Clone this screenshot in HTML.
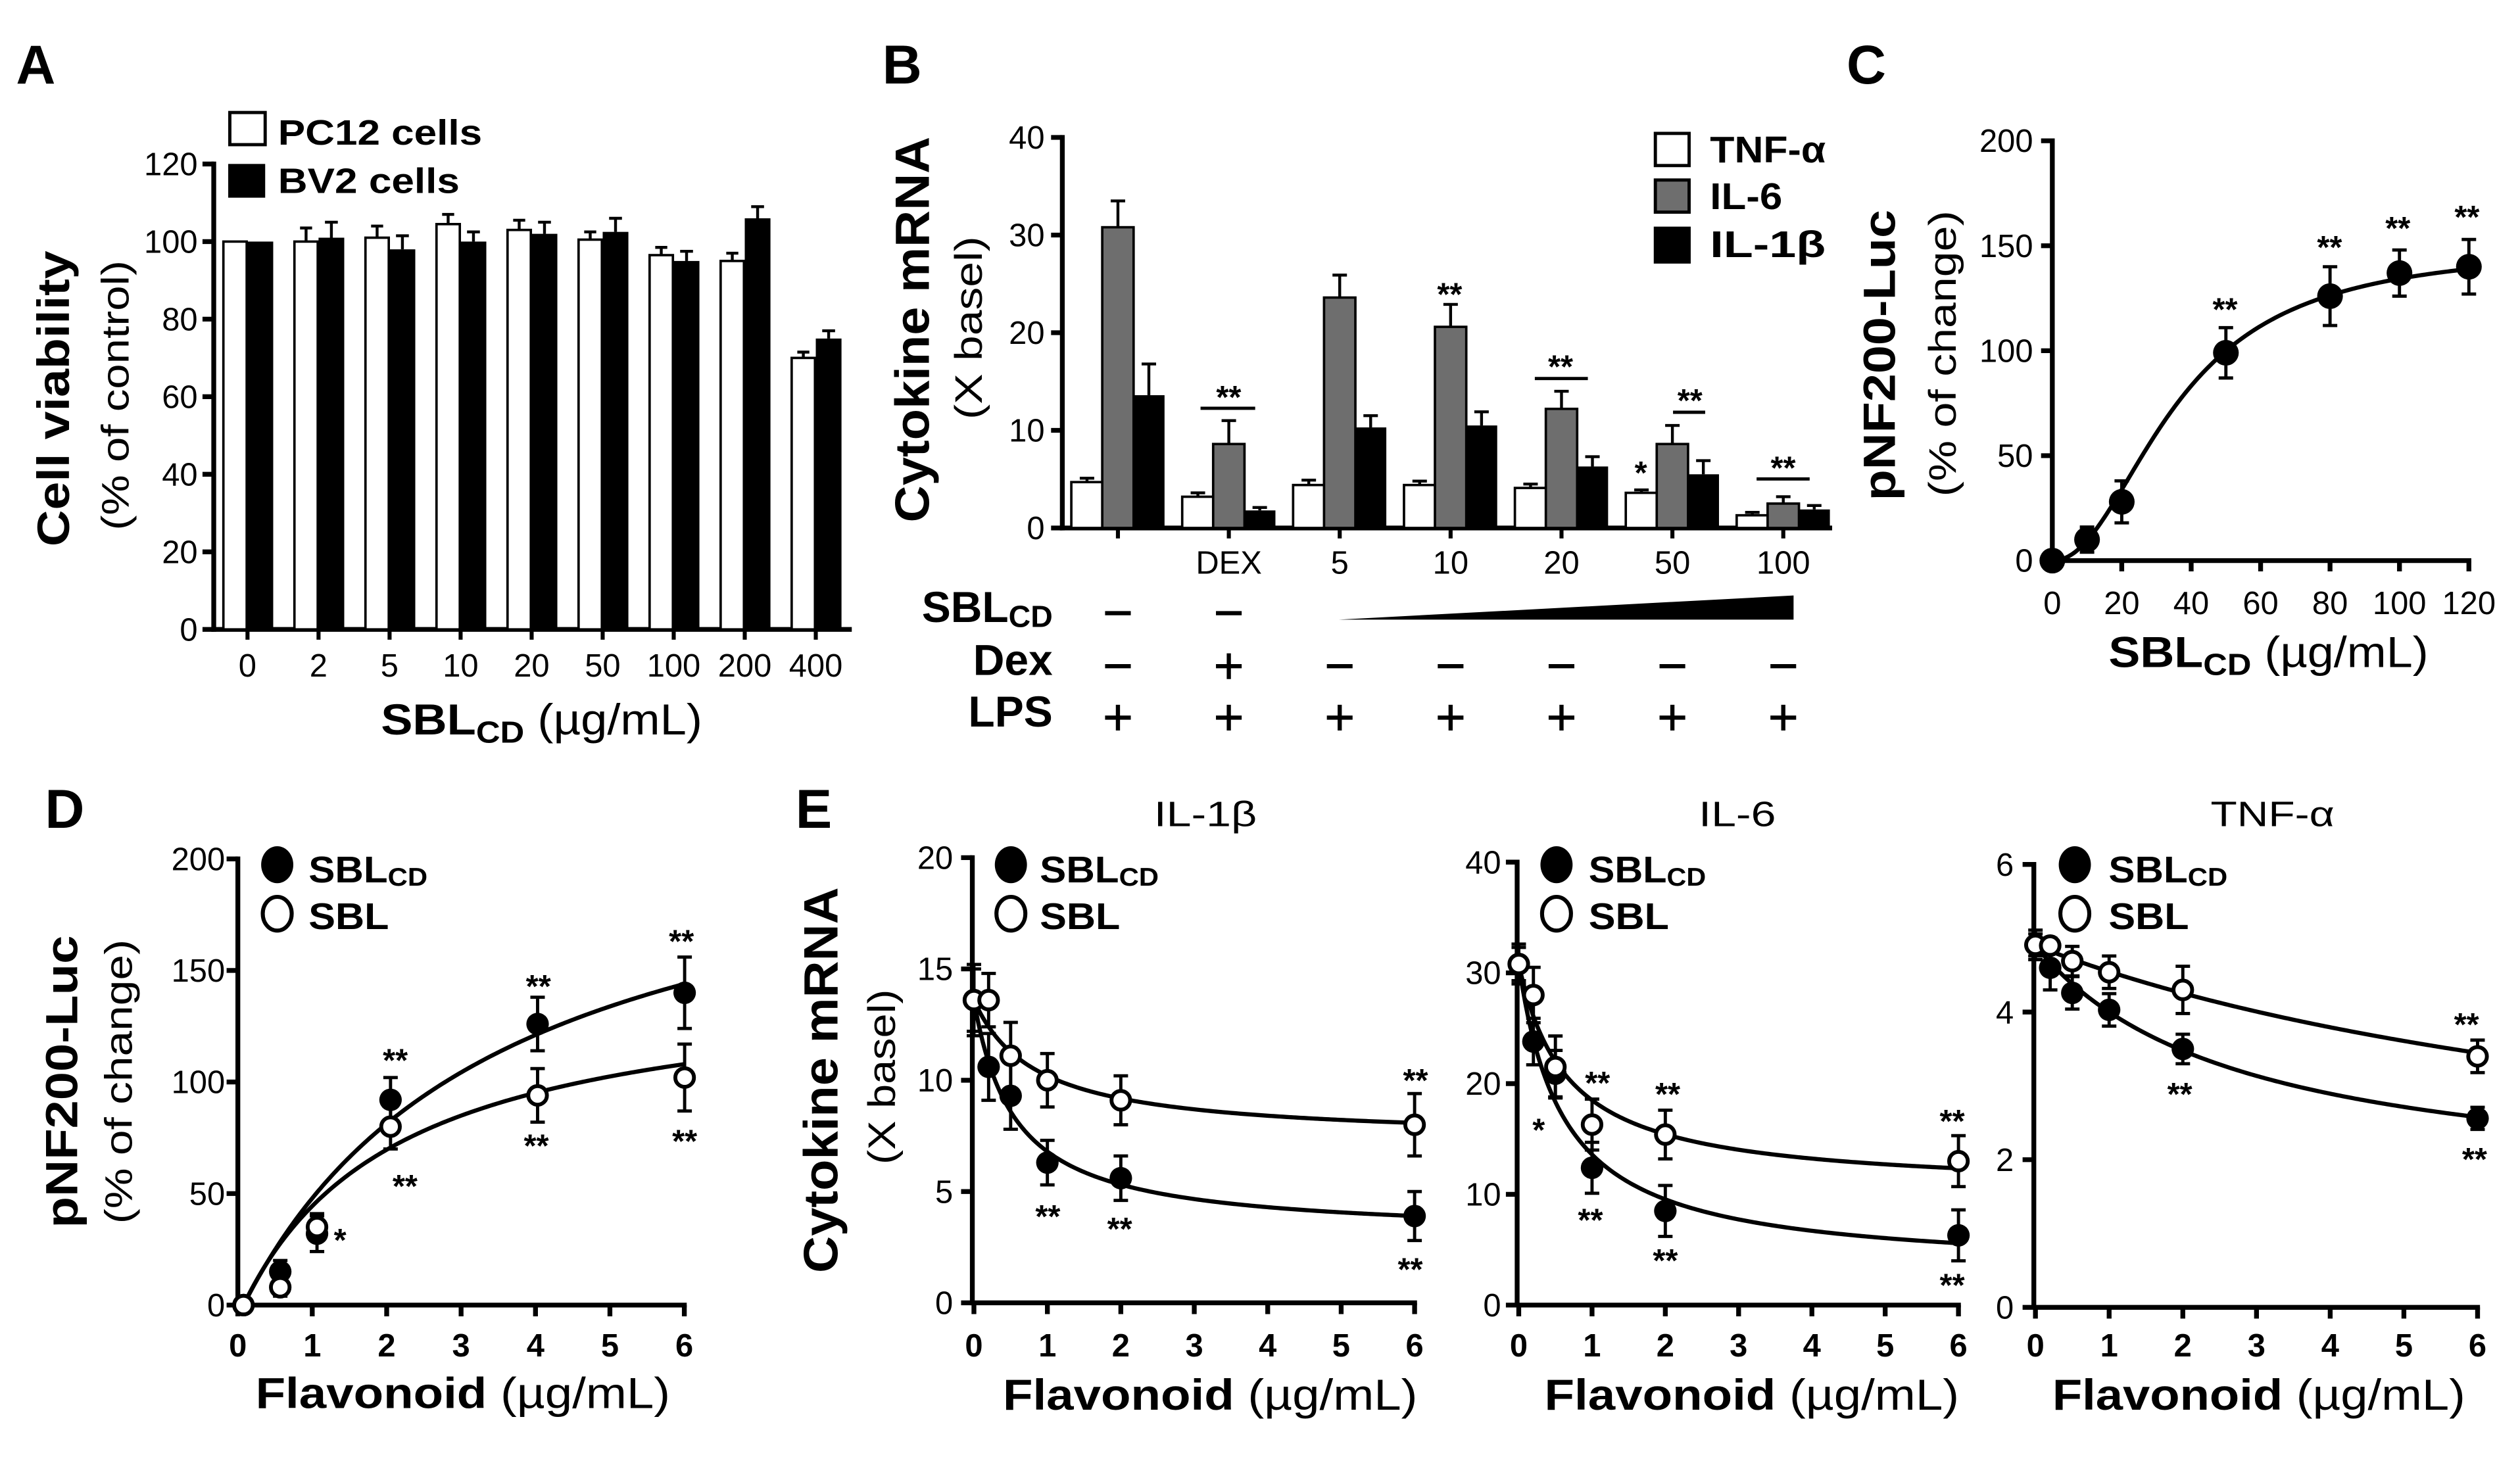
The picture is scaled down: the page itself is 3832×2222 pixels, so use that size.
<!DOCTYPE html>
<html><head><meta charset="utf-8"><title>SBLCD figure</title>
<style>
html,body{margin:0;padding:0;background:#fff;}
svg{display:block;}
text{font-family:"Liberation Sans",Arial,sans-serif;fill:#000;}
.b{font-weight:bold;}
</style></head>
<body>
<svg id="fig" xmlns="http://www.w3.org/2000/svg" width="3832" height="2222" viewBox="0 0 1568 909" preserveAspectRatio="none">
<rect x="0" y="0" width="1568" height="909" fill="#fff"/>
<!-- Panel letters -->
<text class="b" x="10" y="52" font-size="34">A</text>
<text class="b" x="549" y="52" font-size="34">B</text>
<text class="b" x="1149" y="52" font-size="34">C</text>
<text class="b" x="28" y="515" font-size="34">D</text>
<text class="b" x="495" y="515" font-size="34">E</text>

<!-- Y titles -->
<text class="b" transform="translate(43,248) rotate(-90)" text-anchor="middle" font-size="28" textLength="184" lengthAdjust="spacingAndGlyphs">Cell viability</text>
<text transform="translate(80,246) rotate(-90)" text-anchor="middle" font-size="24" textLength="168" lengthAdjust="spacingAndGlyphs">(% of control)</text>
<text class="b" transform="translate(578,205) rotate(-90)" text-anchor="middle" font-size="30" textLength="240" lengthAdjust="spacingAndGlyphs">Cytokine mRNA</text>
<text transform="translate(611,204) rotate(-90)" text-anchor="middle" font-size="24" textLength="114" lengthAdjust="spacingAndGlyphs">(X basel)</text>
<text class="b" transform="translate(1179,221) rotate(-90)" text-anchor="middle" font-size="28" textLength="181" lengthAdjust="spacingAndGlyphs">pNF200-Luc</text>
<text transform="translate(1217,220) rotate(-90)" text-anchor="middle" font-size="24" textLength="178" lengthAdjust="spacingAndGlyphs">(% of change)</text>
<text class="b" transform="translate(48,673) rotate(-90)" text-anchor="middle" font-size="28" textLength="182" lengthAdjust="spacingAndGlyphs">pNF200-Luc</text>
<text transform="translate(82,673) rotate(-90)" text-anchor="middle" font-size="24" textLength="177" lengthAdjust="spacingAndGlyphs">(% of change)</text>
<text class="b" transform="translate(521,672) rotate(-90)" text-anchor="middle" font-size="30" textLength="240" lengthAdjust="spacingAndGlyphs">Cytokine mRNA</text>
<text transform="translate(557,670) rotate(-90)" text-anchor="middle" font-size="24" textLength="109" lengthAdjust="spacingAndGlyphs">(X basel)</text>

<!-- X titles -->
<text x="237" y="457" font-size="27" textLength="200" lengthAdjust="spacingAndGlyphs"><tspan font-weight="bold">SBL</tspan><tspan font-weight="bold" font-size="19" dy="5">CD</tspan><tspan dy="-5"> (µg/mL)</tspan></text>
<text x="1312" y="415" font-size="27" textLength="199" lengthAdjust="spacingAndGlyphs"><tspan font-weight="bold">SBL</tspan><tspan font-weight="bold" font-size="19" dy="5">CD</tspan><tspan dy="-5"> (µg/mL)</tspan></text>
<text x="159" y="876" font-size="27" textLength="258" lengthAdjust="spacingAndGlyphs"><tspan font-weight="bold">Flavonoid</tspan> (µg/mL)</text>
<text x="624" y="877" font-size="27" textLength="258" lengthAdjust="spacingAndGlyphs"><tspan font-weight="bold">Flavonoid</tspan> (µg/mL)</text>
<text x="961" y="877" font-size="27" textLength="258" lengthAdjust="spacingAndGlyphs"><tspan font-weight="bold">Flavonoid</tspan> (µg/mL)</text>
<text x="1277" y="877" font-size="27" textLength="257" lengthAdjust="spacingAndGlyphs"><tspan font-weight="bold">Flavonoid</tspan> (µg/mL)</text>

<!-- E subplot titles -->
<text x="750" y="514" text-anchor="middle" font-size="22" textLength="64" lengthAdjust="spacingAndGlyphs">IL-1β</text>
<text x="1081" y="514" text-anchor="middle" font-size="22" textLength="48" lengthAdjust="spacingAndGlyphs">IL-6</text>
<text x="1414" y="514" text-anchor="middle" font-size="22" textLength="77" lengthAdjust="spacingAndGlyphs">TNF-α</text>

<!-- Legend A -->
<g>
<rect x="143" y="70" width="22" height="20" fill="#fff" stroke="#000" stroke-width="2"/>
<text class="b" x="173" y="90" font-size="22" textLength="127" lengthAdjust="spacingAndGlyphs">PC12 cells</text>
<rect x="142" y="102" width="23" height="21" fill="#000"/>
<text class="b" x="173" y="120" font-size="22" textLength="113" lengthAdjust="spacingAndGlyphs">BV2 cells</text>
</g>
<!-- Legend B -->
<g>
<rect x="1030" y="83" width="21" height="20" fill="#fff" stroke="#000" stroke-width="2"/>
<text class="b" x="1064" y="101" font-size="23" textLength="72" lengthAdjust="spacingAndGlyphs">TNF-α</text>
<rect x="1030" y="112" width="21" height="20" fill="#6e6e6e" stroke="#000" stroke-width="2"/>
<text class="b" x="1064" y="130" font-size="23" textLength="45" lengthAdjust="spacingAndGlyphs">IL-6</text>
<rect x="1029" y="141" width="23" height="23" fill="#000"/>
<text class="b" x="1064" y="160" font-size="23" textLength="72" lengthAdjust="spacingAndGlyphs">IL-1β</text>
</g>
<!-- Legends D/E -->
<g>
<ellipse cx="172.5" cy="538" rx="10" ry="11.5" fill="#000"/>
<text x="192" y="549" font-size="23" class="b" textLength="74" lengthAdjust="spacingAndGlyphs">SBL<tspan font-size="16" dy="2">CD</tspan></text>
<ellipse cx="172.5" cy="568.5" rx="9" ry="10.5" fill="#fff" stroke="#000" stroke-width="2.5"/>
<text x="192" y="578" font-size="23" class="b" textLength="50" lengthAdjust="spacingAndGlyphs">SBL</text>
</g>
<g>
<ellipse cx="629" cy="538" rx="10" ry="11.5" fill="#000"/>
<text x="647" y="549" font-size="23" class="b" textLength="74" lengthAdjust="spacingAndGlyphs">SBL<tspan font-size="16" dy="2">CD</tspan></text>
<ellipse cx="629" cy="568.5" rx="9" ry="10.5" fill="#fff" stroke="#000" stroke-width="2.5"/>
<text x="647" y="578" font-size="23" class="b" textLength="50" lengthAdjust="spacingAndGlyphs">SBL</text>
</g>
<g>
<ellipse cx="968.5" cy="538" rx="10" ry="11.5" fill="#000"/>
<text x="988.5" y="549" font-size="23" class="b" textLength="73" lengthAdjust="spacingAndGlyphs">SBL<tspan font-size="16" dy="2">CD</tspan></text>
<ellipse cx="968.5" cy="568.5" rx="9" ry="10.5" fill="#fff" stroke="#000" stroke-width="2.5"/>
<text x="988.5" y="578" font-size="23" class="b" textLength="50" lengthAdjust="spacingAndGlyphs">SBL</text>
</g>
<g>
<ellipse cx="1291" cy="538" rx="10" ry="11.5" fill="#000"/>
<text x="1312" y="549" font-size="23" class="b" textLength="74" lengthAdjust="spacingAndGlyphs">SBL<tspan font-size="16" dy="2">CD</tspan></text>
<ellipse cx="1291" cy="568.5" rx="9" ry="10.5" fill="#fff" stroke="#000" stroke-width="2.5"/>
<text x="1312" y="578" font-size="23" class="b" textLength="50" lengthAdjust="spacingAndGlyphs">SBL</text>
</g>

<!-- B treatment rows -->
<text class="b" x="655" y="387" text-anchor="end" font-size="27">SBL<tspan font-size="19" dy="3">CD</tspan></text>
<text class="b" x="655" y="420" text-anchor="end" font-size="27">Dex</text>
<text class="b" x="655" y="452" text-anchor="end" font-size="27">LPS</text>
<polygon points="833,385.5 1116,370.5 1116,385.5" fill="#000"/>

<!-- significance annotations -->
<g class="b" font-size="20" font-weight="bold" text-anchor="middle">
<text x="764.5" y="254">**</text>
<line x1="747" y1="254" x2="781" y2="254" stroke="#000" stroke-width="2"/>
<text x="902" y="190">**</text>
<text x="971" y="235">**</text>
<line x1="955" y1="235.5" x2="988" y2="235.5" stroke="#000" stroke-width="2"/>
<text x="1021" y="301">*</text>
<text x="1051.5" y="256">**</text>
<line x1="1041" y1="256.5" x2="1061" y2="256.5" stroke="#000" stroke-width="2"/>
<text x="1109.5" y="298">**</text>
<line x1="1093" y1="298" x2="1126" y2="298" stroke="#000" stroke-width="2"/>

<text x="1384.5" y="199.5">**</text>
<text x="1449.5" y="160.7">**</text>
<text x="1492" y="149">**</text>
<text x="1535" y="142">**</text>

<text x="246" y="666.7">**</text>
<text x="335" y="620.5">**</text>
<text x="424" y="592.5">**</text>
<text x="252" y="745">**</text>
<text x="333.7" y="719.8">**</text>
<text x="426" y="717">**</text>
<text x="211.6" y="778.6">*</text>

<text x="880.8" y="679">**</text>
<text x="652" y="763.8">**</text>
<text x="696.7" y="771.6">**</text>
<text x="877.5" y="796.8">**</text>

<text x="957.4" y="710">*</text>
<text x="994" y="680.7">**</text>
<text x="1037.7" y="687.7">**</text>
<text x="1214.7" y="704.4">**</text>
<text x="989.6" y="766">**</text>
<text x="1036.2" y="791.2">**</text>
<text x="1214.7" y="806.6">**</text>

<text x="1534.7" y="644.3">**</text>
<text x="1356.3" y="687.7">**</text>
<text x="1539.7" y="728.2">**</text>
</g>
</svg>

<script>
// ---------- Panel A data ----------
const aCats = ['0','2','5','10','20','50','100','200','400'];
const aPC12 = [100,100,101,104.5,103,100.5,96.5,95,70];
const aPC12Err = [0,3.5,3,2.5,2.5,2,2,2,1.5];
const aBV2 = [100,101,98,100,102,102.5,95,106,75];
const aBV2Err = [0,4,3.5,2.5,3,3.5,2.5,3,2];
const aTicks = [0,20,40,60,80,100,120];
// ---------- Panel B data ----------
const bCats = ['','DEX','5','10','20','50','100'];
const bTNF = [4.7,3.2,4.4,4.4,4.1,3.6,1.3];
const bTNFErr = [0.4,0.4,0.5,0.4,0.4,0.3,0.3];
const bIL6 = [30.8,8.6,23.6,20.6,12.2,8.6,2.5];
const bIL6Err = [2.7,2.4,2.3,2.3,1.8,1.9,0.7];
const bIL1b = [13.6,1.8,10.3,10.5,6.3,5.5,1.9];
const bIL1bErr = [3.2,0.3,1.2,1.4,1.0,1.4,0.4];
const bTicks = [0,10,20,30,40];
const bDexRow = ['-','+','-','-','-','-','-'];
const bSblRow = ['-','-'];
const bLpsRow = ['+','+','+','+','+','+','+'];
// ---------- Panel C data ----------
const cDose = [0,10,20,50,80,100,120];
const cMean = [0,10,28,99,126,137,140];
const cErr = [0,6,10,12,14,11,13];
const cFit = [150,36,2.1];
const cXTicks = [0,20,40,60,80,100,120];
const cYTicks = [0,50,100,150,200];
// ---------- Panel D data ----------
const dDose = [0,0.5,1,2,4,6];
const dSBLCD = [0,15,32,92,126,140];
const dSBLCDErr = [0,5,8,10,12,16];
const dSBL = [0,8,35,80,94,102];
const dSBLErr = [0,4,6,10,12,15];
const dFitCD = [228.7,3.53];
const dFitSBL = [146.9,2.16];
const dYTicks = [0,50,100,150,200];
const flavTicks = [0,1,2,3,4,5,6];
// ---------- Panel E data ----------
const eDose = [0,0.2,0.5,1,2,6];
const e1CD = [13.6,10.6,9.3,6.3,5.6,3.9];
const e1CDErr = [1.6,1.5,1.5,1.0,1.0,1.1];
const e1SBL = [13.6,13.6,11.1,10.0,9.1,8.0];
const e1SBLErr = [1.4,1.2,1.5,1.2,1.1,1.4];
const e1FitCD = [3,10.6,0.558];
const e1FitSBL = [7.3,6.3,0.852];
const e1Ticks = [0,5,10,15,20];
const e2CD = [30.8,23.8,20.9,12.4,8.5,6.3];
const e2CDErr = [1.8,2.1,2.1,2.3,2.3,2.3];
const e2SBL = [30.8,28,21.5,16.3,15.4,13];
const e2SBLErr = [1.5,2.5,2.8,2.3,2.2,2.3];
const e2FitCD = [3,27.8,0.616];
const e2FitSBL = [10.3,20.5,0.667];
const e2Ticks = [0,10,20,30,40];
const e3CD = [4.91,4.6,4.26,4.03,3.5,2.56];
const e3CDErr = [0.2,0.3,0.22,0.22,0.2,0.15];
const e3SBL = [4.91,4.9,4.69,4.54,4.3,3.4];
const e3SBLErr = [0.15,0.1,0.2,0.22,0.32,0.22];
const e3FitCD = [1.5,3.4,2.78];
const e3FitSBL = [1,3.9,10.1];
const e3Ticks = [0,2,4,6];

const NS = 'http://www.w3.org/2000/svg';
const svg = document.getElementById('fig');
function mk(tag, attrs, name, parent) {
  const el = document.createElementNS(NS, tag);
  for (const k in attrs) el.setAttribute(k, attrs[k]);
  
  
  (parent || svg).appendChild(el);
  return el;
}
function tx(x, y, s, size, anchor, bold, name, parent) {
  const el = mk('text', {x: x, y: y, 'font-size': size, 'text-anchor': anchor}, name, parent);
  if (bold) el.setAttribute('font-weight', 'bold');
  el.textContent = s;
  return el;
}
function line(x1, y1, x2, y2, w, name, parent) {
  return mk('line', {x1: x1, y1: y1, x2: x2, y2: y2, stroke: '#000', 'stroke-width': w}, name, parent);
}
function yAxis(g, x, y0, y1, ticks, yf, labX, prefix) {
  line(x, y0 + 1.5, x, y1 - 1.5, 3, prefix + '-y-axis-line', g);
  ticks.forEach(t => {
    line(x - 7, yf(t), x, yf(t), 3, prefix + '-y-tick', g);
    tx(labX, yf(t) + 7, String(t), 20, 'end', false, prefix + '-y-tick-label', g);
  });
}

// ---------- Panel A ----------
(function () {
  const g = mk('g', {}, 'panel-a-chart');
  const yA = v => 391.6 - v * 2.413;
  const xA = i => 154 + i * 44.2;
  yAxis(g, 133, 391.6, yA(120), aTicks, yA, 123, 'a');
  line(131.5, 391.6, 530, 391.6, 3, 'a-x-axis-line', g);
  aCats.forEach((c, i) => {
    const cx = xA(i);
    const pcTop = yA(aPC12[i]);
    mk('rect', {x: cx - 15, y: pcTop, width: 14.5, height: 391.6 - pcTop, fill: '#fff', stroke: '#000', 'stroke-width': 1.5}, 'bar-pc12-' + c, g);
    if (aPC12Err[i] > 0) {
      const e = yA(aPC12[i] + aPC12Err[i]);
      line(cx - 7.75, pcTop, cx - 7.75, e, 1.8, 'error-bar-pc12', g);
      line(cx - 11.5, e, cx - 4, e, 1.8, 'error-cap-pc12', g);
    }
    const bvTop = yA(aBV2[i]);
    mk('rect', {x: cx, y: bvTop, width: 16, height: 391.6 - bvTop, fill: '#000'}, 'bar-bv2-' + c, g);
    if (aBV2Err[i] > 0) {
      const e = yA(aBV2[i] + aBV2Err[i]);
      line(cx + 8, bvTop, cx + 8, e, 1.8, 'error-bar-bv2', g);
      line(cx + 4, e, cx + 12, e, 1.8, 'error-cap-bv2', g);
    }
    line(cx, 391.6, cx, 398, 2.5, 'a-x-tick', g);
    tx(cx, 421, c, 20, 'middle', false, 'a-x-tick-label', g);
  });
})();

// ---------- Panel B ----------
(function () {
  const g = mk('g', {}, 'panel-b-chart');
  const yB = v => 328.5 - v * 6.075;
  const xB = i => 695.6 + i * 69;
  yAxis(g, 661, 328.5, yB(40), bTicks, yB, 650, 'b');
  line(659.5, 328.5, 1140, 328.5, 3, 'b-x-axis-line', g);
  const series = [
    {v: bTNF, e: bTNFErr, off: -29, fill: '#fff', n: 'tnf'},
    {v: bIL6, e: bIL6Err, off: -9.75, fill: '#6e6e6e', n: 'il6'},
    {v: bIL1b, e: bIL1bErr, off: 9.5, fill: '#000', n: 'il1b'}
  ];
  bCats.forEach((c, i) => {
    const cx = xB(i);
    series.forEach(s => {
      const top = yB(s.v[i]);
      const bar = mk('rect', {x: cx + s.off, y: top, width: 19.5, height: 328.5 - top, fill: s.fill}, 'bar-' + s.n + '-' + (c || 'lps'), g);
      if (s.fill !== '#000') { bar.setAttribute('stroke', '#000'); bar.setAttribute('stroke-width', 1.5); }
      const e = yB(s.v[i] + s.e[i]);
      const mx = cx + s.off + 9.75;
      line(mx, top, mx, e, 1.8, 'error-bar-' + s.n, g);
      line(mx - 4.5, e, mx + 4.5, e, 1.8, 'error-cap-' + s.n, g);
    });
    line(cx, 328.5, cx, 335, 2.5, 'b-x-tick', g);
    if (c) tx(cx, 357, c, 20, 'middle', false, 'b-x-tick-label', g);
    // treatment rows
    const sym = (s, y, nm) => {
      line(cx - 8, y, cx + 8, y, 2.6, nm, g);
      if (s === '+') line(cx, y - 8, cx, y + 8, 2.6, nm, g);
    };
    if (i < bSblRow.length) sym(bSblRow[i], 381.5, 'sblcd-row-symbol');
    sym(bDexRow[i], 414.5, 'dex-row-symbol');
    sym(bLpsRow[i], 446.5, 'lps-row-symbol');
  });
})();

// generic point plot
function pointSeries(g, xs, ys, errs, xf, yf, filled, name, r) {
  xs.forEach((x, i) => {
    if (errs[i] > 0) {
      const a = yf(ys[i] + errs[i]), b = yf(ys[i] - errs[i]);
      line(xf(x), a, xf(x), b, 2, 'error-bar-' + name, g);
      line(xf(x) - 4.5, a, xf(x) + 4.5, a, 2, 'error-cap-' + name, g);
      line(xf(x) - 4.5, b, xf(x) + 4.5, b, 2, 'error-cap-' + name, g);
    }
  });
  xs.forEach((x, i) => {
    mk('circle', {cx: xf(x), cy: yf(ys[i]), r: filled ? r : r - 1.2, fill: filled ? '#000' : '#fff', stroke: '#000', 'stroke-width': filled ? 0 : 2.4}, 'point-' + name, g);
  });
}
function curve(g, f, x0, x1, xf, yf, name) {
  let d = '';
  for (let k = 0; k <= 200; k++) {
    const x = x0 + (x1 - x0) * k / 200;
    d += (k ? 'L' : 'M') + xf(x).toFixed(2) + ',' + yf(f(x)).toFixed(2);
  }
  mk('path', {d: d, fill: 'none', stroke: '#000', 'stroke-width': 2.6}, 'fit-curve-' + name, g);
}
function flavX(g, x0, unit, y0, prefix) {
  line(x0 - 1.5, y0, x0 + 6 * unit + 1.5, y0, 3, prefix + '-x-axis-line', g);
  flavTicks.forEach(t => {
    line(x0 + t * unit, y0, x0 + t * unit, y0 + 7, 3, prefix + '-x-tick', g);
    tx(x0 + t * unit, 844, String(t), 20, 'middle', true, prefix + '-x-tick-label', g);
  });
}

// ---------- Panel C ----------
(function () {
  const g = mk('g', {}, 'panel-c-chart');
  const xC = v => 1277 + v * 2.16;
  const yC = v => 348.8 - v * 1.306;
  yAxis(g, 1277, 348.8, yC(200), cYTicks, yC, 1265, 'c');
  line(1275.5, 348.8, xC(120) + 1.5, 348.8, 3, 'c-x-axis-line', g);
  cXTicks.forEach(t => {
    line(xC(t), 348.8, xC(t), 355.5, 3, 'c-x-tick', g);
    tx(xC(t), 382, String(t), 20, 'middle', false, 'c-x-tick-label', g);
  });
  curve(g, x => cFit[0] * Math.pow(x, cFit[2]) / (Math.pow(cFit[1], cFit[2]) + Math.pow(x, cFit[2])), 0, 120, xC, yC, 'sblcd');
  pointSeries(g, cDose, cMean, cErr, xC, yC, true, 'sblcd', 8);
})();

// ---------- Panel D ----------
(function () {
  const g = mk('g', {}, 'panel-d-chart');
  const xD = v => 151.5 + v * 45.75;
  const yD = v => 812 - v * 1.388;
  yAxis(g, 148, 812, yD(200), dYTicks, yD, 140, 'd');
  flavX(g, 148, 46.3, 812, 'd');
  curve(g, x => dFitCD[0] * x / (dFitCD[1] + x), 0, 6, xD, yD, 'sblcd');
  curve(g, x => dFitSBL[0] * x / (dFitSBL[1] + x), 0, 6, xD, yD, 'sbl');
  pointSeries(g, dDose, dSBLCD, dSBLCDErr, xD, yD, true, 'sblcd', 7);
  pointSeries(g, dDose, dSBL, dSBLErr, xD, yD, false, 'sbl', 7);
})();

// ---------- Panel E ----------
function ePanel(prefix, ax, unit, y0, perUnit, ticks, labX, cd, cdErr, sbl, sblErr, fcd, fsbl) {
  const g = mk('g', {}, prefix + '-chart');
  const xf = v => ax + 1 + v * unit;
  const yf = v => y0 - v * perUnit;
  yAxis(g, ax, y0, yf(ticks[ticks.length - 1]), ticks, yf, labX, prefix);
  flavX(g, ax + 1, unit, y0, prefix);
  curve(g, x => fcd[0] + fcd[1] * fcd[2] / (fcd[2] + x), 0, 6, xf, yf, 'sblcd');
  curve(g, x => fsbl[0] + fsbl[1] * fsbl[2] / (fsbl[2] + x), 0, 6, xf, yf, 'sbl');
  pointSeries(g, eDose, cd, cdErr, xf, yf, true, 'sblcd', 7);
  pointSeries(g, eDose, sbl, sblErr, xf, yf, false, 'sbl', 7);
}
ePanel('e1', 605, 45.7, 810.6, 13.85, e1Ticks, 593, e1CD, e1CDErr, e1SBL, e1SBLErr, e1FitCD, e1FitSBL);
ePanel('e2', 944, 45.6, 812, 6.89, e2Ticks, 934, e2CD, e2CDErr, e2SBL, e2SBLErr, e2FitCD, e2FitSBL);
ePanel('e3', 1265.5, 45.85, 813.4, 45.93, e3Ticks, 1253, e3CD, e3CDErr, e3SBL, e3SBLErr, e3FitCD, e3FitSBL);
</script>
</body></html>
